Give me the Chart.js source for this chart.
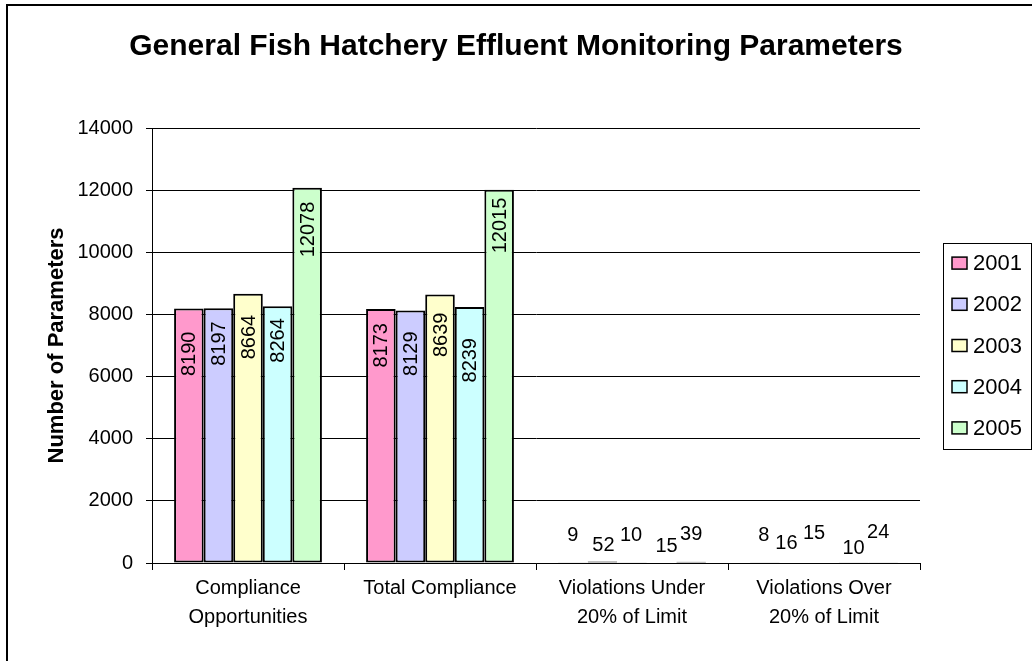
<!DOCTYPE html>
<html>
<head>
<meta charset="utf-8">
<script src="https://cdn.jsdelivr.net/npm/chart.js@4.4.1/dist/chart.umd.min.js"></script>
<style>
  html, body { margin: 0; padding: 0; background: #fff; }
  #wrap { width: 1032px; height: 661px; }
</style>
</head>
<body>
<div id="wrap"><canvas id="c" width="1032" height="661"></canvas></div>
<script>
// ---- data ----
const categories = [
  ['Compliance', 'Opportunities'],
  ['Total Compliance'],
  ['Violations Under', '20% of Limit'],
  ['Violations Over', '20% of Limit']
];
const seriesNames = ['2001', '2002', '2003', '2004', '2005'];
const values2001 = [8190, 8173, 9, 8];
const values2002 = [8197, 8129, 52, 16];
const values2003 = [8664, 8639, 10, 15];
const values2004 = [8264, 8239, 15, 10];
const values2005 = [12078, 12015, 39, 24];
const yTicks = [0, 2000, 4000, 6000, 8000, 10000, 12000, 14000];
const chartTitle = 'General Fish Hatchery Effluent Monitoring Parameters';
const yTitle = 'Number of Parameters';

// ---- styles ----
const colors = ['#FF99CC', '#CCCCFF', '#FFFFCC', '#CCFFFF', '#CCFFCC'];
const FONT = "'Liberation Sans', Arial, Helvetica, sans-serif";
Chart.defaults.font.family = FONT;
Chart.defaults.color = '#000';

// label placement nudges (style only): gap below bar top for rotated labels,
// [dx, lift above baseline] for small horizontal labels
const labelNudges = [
  [23, 14, [0, 28], [-1, 28]],
  [13, 21, [1, 18], [-8, 20]],
  [21, 18, [-1, 28], [-10, 30]],
  [12, 31, [5, 17], [0, 15]],
  [14, 8, [0, 29], [-5, 31]]
];

const allValues = [values2001, values2002, values2003, values2004, values2005];

const frameAndLegend = {
  id: 'frameAndLegend',
  beforeDraw(chart) {
    const ctx = chart.ctx;
    ctx.save();
    ctx.fillStyle = '#fff';
    ctx.fillRect(0, 0, chart.width, chart.height);
    ctx.strokeStyle = '#000';
    ctx.lineWidth = 2;
    ctx.strokeRect(7, 5, chart.width + 20, chart.height + 20);
    ctx.restore();
  },
  afterDraw(chart) {
    const ctx = chart.ctx;
    const ca = chart.chartArea;
    const ds = chart.data.datasets;
    const boxLeft = 943, boxW = 88, spacing = 41.2;
    const boxH = spacing * ds.length;
    const cy = (ca.top + ca.bottom) / 2;
    const boxTop = cy - boxH / 2;
    ctx.save();
    ctx.strokeStyle = '#000';
    ctx.lineWidth = 1;
    ctx.strokeRect(boxLeft + 0.5, Math.round(boxTop) + 0.5, boxW, Math.round(boxH));
    ctx.font = '22px ' + FONT;
    ctx.textBaseline = 'middle';
    ctx.textAlign = 'left';
    ds.forEach((d, i) => {
      const y = boxTop + spacing * (i + 0.5);
      ctx.fillStyle = d.backgroundColor;
      ctx.fillRect(952, y - 6, 15, 12);
      ctx.lineWidth = 1.5;
      ctx.strokeStyle = '#000';
      ctx.strokeRect(952, y - 6, 15, 12);
      ctx.fillStyle = '#000';
      ctx.fillText(d.label, 973, y + 1);
    });
    ctx.restore();
  }
};

const barLabels = {
  id: 'barLabels',
  afterDatasetsDraw(chart) {
    const ctx = chart.ctx;
    const yScale = chart.scales.y;
    const base = yScale.getPixelForValue(0);
    ctx.save();
    ctx.font = '20px ' + FONT;
    ctx.fillStyle = '#000';
    chart.data.datasets.forEach((d, i) => {
      const meta = chart.getDatasetMeta(i);
      meta.data.forEach((bar, j) => {
        const v = d.data[j];
        const nudge = labelNudges[i][j];
        if (v > 1000) {
          ctx.save();
          ctx.translate(bar.x + 1, bar.y + nudge);
          ctx.rotate(-Math.PI / 2);
          ctx.textAlign = 'right';
          ctx.textBaseline = 'middle';
          ctx.fillText(String(v), 0, 0);
          ctx.restore();
        } else {
          ctx.textAlign = 'center';
          ctx.textBaseline = 'middle';
          ctx.fillText(String(v), bar.x + nudge[0], base - nudge[1]);
        }
      });
    });
    ctx.restore();
  }
};

new Chart(document.getElementById('c'), {
  type: 'bar',
  data: {
    labels: categories,
    datasets: seriesNames.map((name, i) => ({
      label: name,
      data: allValues[i],
      backgroundColor: colors[i],
      borderColor: '#000',
      borderWidth: 2,
      borderSkipped: false,
      categoryPercentage: 0.77,
      barPercentage: 1.0
    }))
  },
  options: {
    responsive: false,
    animation: false,
    events: [],
    layout: { padding: { left: 0, top: 10, right: 0, bottom: 0 } },
    plugins: {
      legend: { display: false },
      tooltip: { enabled: false },
      title: {
        display: true,
        text: chartTitle,
        color: '#000',
        font: { size: 30, weight: 'bold', family: FONT, lineHeight: 1.2 },
        padding: { top: 19, bottom: 63 }
      }
    },
    scales: {
      x: {
        offset: true,
        grid: {
          offset: true,
          drawOnChartArea: false,
          drawTicks: true,
          tickLength: 7,
          color: '#000',
          lineWidth: 1
        },
        border: { display: true, color: '#000', width: 1 },
        ticks: {
          autoSkip: false,
          maxRotation: 0,
          minRotation: 0,
          padding: 4,
          color: '#000',
          font: { size: 20, lineHeight: 1.45 }
        },
        afterFit(scale) { scale.height = 98; }
      },
      y: {
        min: yTicks[0],
        max: yTicks[yTicks.length - 1],
        afterBuildTicks(scale) { scale.ticks = yTicks.map(v => ({ value: v })); },
        grid: {
          drawOnChartArea: true,
          drawTicks: true,
          tickLength: 6,
          color: '#000',
          lineWidth: 1
        },
        border: { display: true, color: '#000', width: 1 },
        ticks: {
          padding: 13,
          color: '#000',
          font: { size: 20 },
          callback: (v) => String(v)
        },
        title: {
          display: true,
          text: yTitle,
          color: '#000',
          font: { size: 22, weight: 'bold', lineHeight: 1.2 },
          padding: { top: 44, bottom: 0 }
        },
        afterFit(scale) { scale.width = 152; }
      },
      legendSpace: {
        type: 'linear',
        position: 'right',
        display: true,
        grid: { display: false, drawTicks: false },
        border: { display: false },
        ticks: { display: false },
        afterFit(scale) { scale.width = 112; }
      }
    }
  },
  plugins: [frameAndLegend, barLabels]
});
</script>
</body>
</html>
